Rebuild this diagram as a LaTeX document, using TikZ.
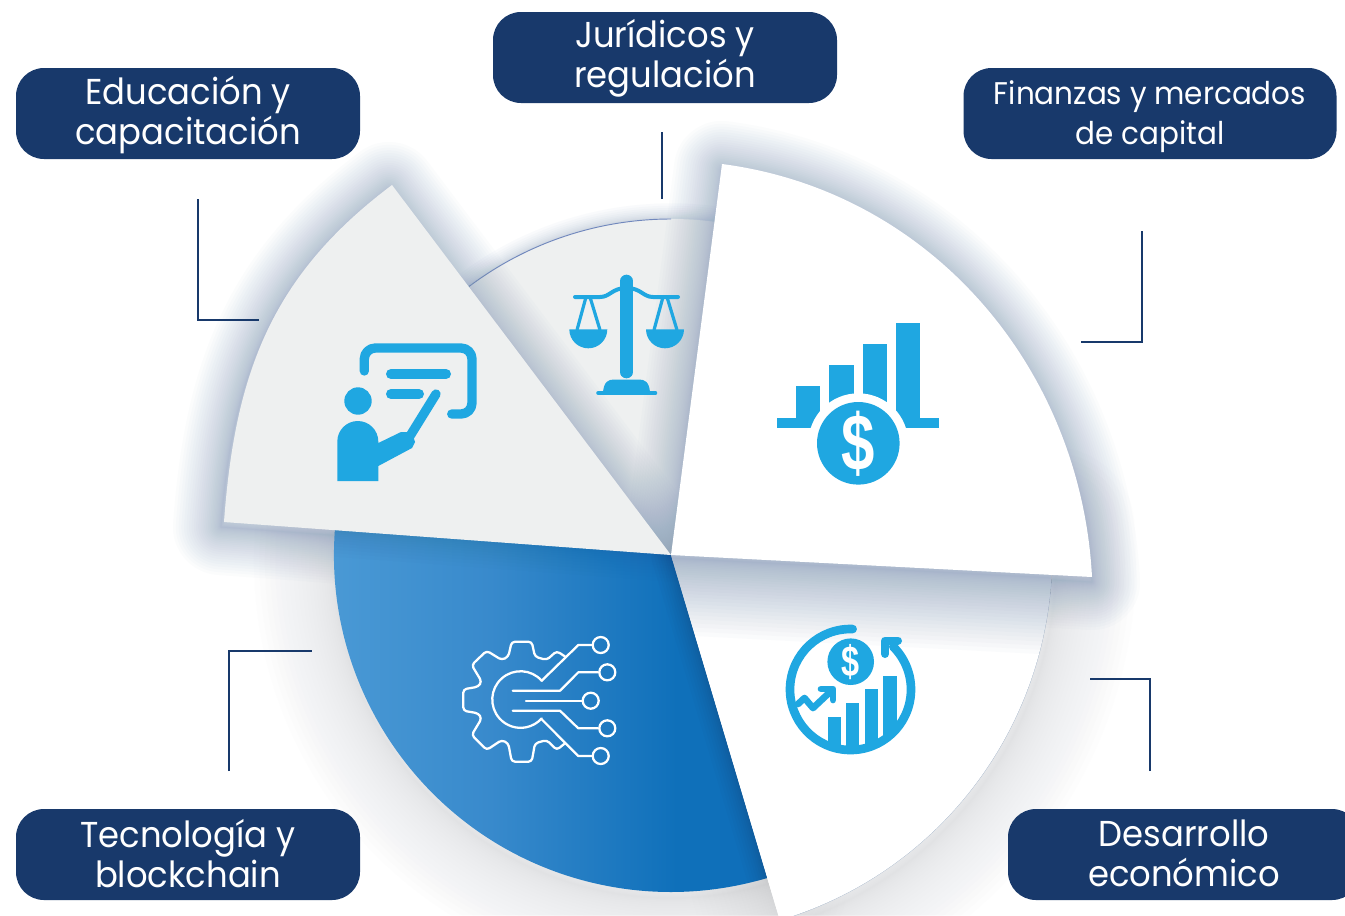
\documentclass[tikz,border=0pt]{standalone}
\usepackage{fontspec}
\setmainfont{Poppins}[FakeStretch=0.94]
\newfontfamily\symfont{Liberation Sans}
\usetikzlibrary{calc}
\definecolor{navy}{HTML}{18396B}
\definecolor{iconblue}{HTML}{1FA7E1}
\definecolor{sheet}{HTML}{EEF0F0}
\definecolor{halo}{HTML}{7E97B6}
\definecolor{softgray}{HTML}{B4B6BA}
\pgfdeclarehorizontalshading{bluegrad}{100bp}{rgb(0bp)=(0.30,0.61,0.84);rgb(25bp)=(0.30,0.61,0.84);rgb(45bp)=(0.22,0.54,0.80);rgb(65bp)=(0.06,0.44,0.73);rgb(100bp)=(0.06,0.42,0.72)}
\tikzset{
  labelbox/.style={fill=navy,rounded corners=21pt,text=white,align=center,inner sep=0pt,minimum height=68.25pt,
     font=\fontsize{27}{30}\selectfont},
  leader/.style={draw=navy,line width=2pt,line join=miter},
  iconfill/.style={fill=iconblue,draw=none},
  iconline/.style={draw=iconblue,line cap=round,line join=round},
  gearline/.style={draw=white,line width=1.7pt,line join=round,line cap=round},
  coinsign/.style={text=white,inner sep=0pt,font=\symfont\bfseries},
  pad/.style={draw=white,line width=1.7pt,circle,minimum size=12pt,inner sep=0pt}
}
\newcommand{\softhalo}[6]{% path, colour, max width(pt), steps, alpha, shift
  \foreach \i in {1,...,#4}{
    \pgfmathsetmacro{\wd}{#3*(\i/#4)^1.7}
    \draw[shift={#6},draw=#2,line width=\wd pt,draw opacity=#5,line join=round] #1;
  }}
\def\grayP{(671,555) -- (224,522) .. controls (235,372) and (272,275) .. (392,185) -- cycle}
\def\whiteP{(671,555) -- (722,164) .. controls (930,191) and (1081,367) .. (1092,577) -- cycle}
\def\legalP{(671,555) -- ++(-135:336) arc[start angle=-135,end angle=-75,radius=336] -- cycle}
\def\blueP{(671,555) -- ++(190:337) arc[start angle=190,end angle=73.4,radius=337] -- cycle}
\def\lowP{(671,555) -- ++(-5:381) arc[start angle=-5,end angle=73.4,radius=381] -- cycle}
\begin{document}
\begin{tikzpicture}[x=0.75pt,y=0.75pt,yscale=-1]
\useasboundingbox (0,0) rectangle (1345,915);
\fill[white] (0,0) rectangle (1345,915);
% broad soft shadows
\softhalo{\blueP}{softgray}{120}{24}{0.016}{(0,6)}
\softhalo{\lowP}{softgray}{120}{24}{0.016}{(4,6)}
\softhalo{\legalP}{halo}{22}{10}{0.04}{(0,-1)}
% lower sectors
\fill[sheet] \legalP;
\draw[draw=halo!90!blue,line width=0.7pt] (671,555) ++(-127:336) arc[start angle=-127,end angle=-90,radius=336];
\fill[white] \lowP;
\draw[draw=halo,line width=0.5pt,draw opacity=.7] (671,555) ++(4:381) arc[start angle=4,end angle=73.4,radius=381];
% upper sectors' shadows
\softhalo{\whiteP}{halo}{72}{28}{0.026}{(0,5)}
\softhalo{\grayP}{halo}{72}{28}{0.026}{(-3,5)}
% blue sector above the pale shadows
\shade[shading=bluegrad] \blueP;
\begin{scope}
  \clip \blueP;
  \softhalo{\grayP}{navy}{40}{12}{0.012}{(0,0)}
  \softhalo{\lowP}{navy}{30}{10}{0.035}{(0,0)}
\end{scope}
\fill[white] \lowP;
\begin{scope}
  \clip \lowP;
  \softhalo{\whiteP}{halo}{115}{30}{0.03}{(0,3)}
\end{scope}
\fill[sheet] \grayP;
\fill[white] \whiteP;
% leaders
\coordinate (eduA) at (198,199); \coordinate (eduB) at (198,320); \coordinate (eduC) at (259,320);
\coordinate (jurA) at (662,132); \coordinate (jurB) at (662,199);
\coordinate (finA) at (1142,231); \coordinate (finB) at (1142,342); \coordinate (finC) at (1081,342);
\coordinate (tecA) at (229,771); \coordinate (tecB) at (229,651); \coordinate (tecC) at (312,651);
\coordinate (desA) at (1150,771); \coordinate (desB) at (1150,679); \coordinate (desC) at (1090,679);
\draw[leader] (eduA) -- (eduB) -- (eduC);
\draw[leader] (jurA) -- (jurB);
\draw[leader] (finA) -- (finB) -- (finC);
\draw[leader] (tecA) -- (tecB) -- (tecC);
\draw[leader] (desA) -- (desB) -- (desC);
% labels
\node[labelbox,minimum width=258pt] (edu) at (188,113.5) {\rule{0pt}{23pt}Educación y\\capacitación};
\node[labelbox,minimum width=258pt] (jur) at (665,57.5) {\rule{0pt}{22.5pt}Jurídicos y\\regulación};
\node[labelbox,minimum width=279.75pt,font=\fontsize{23.5}{30}\selectfont] (fin) at (1150,113.5) {\rule{0pt}{22pt}Finanzas y mercados\\de capital};
\node[labelbox,minimum width=258pt] (tec) at (188,854.5) {Tecnología y\\blockchain\rule[-1.5pt]{0pt}{1.5pt}};
\node[labelbox,minimum width=264pt] (des) at (1184,854.5) {Desarrollo\\económico\rule[-1.5pt]{0pt}{1.5pt}};
% presenter icon
\fill[iconfill] (358,401) circle[radius=13.7];
\fill[iconfill] (337.3,481) -- (337.3,441.5) arc[start angle=180,end angle=360,radius=20.5] -- (378.3,443) -- (401,432) -- (408,432) -- (413,436) -- (415,442) -- (412,448) -- (378.3,466) -- (378.3,481) -- cycle;
\draw[iconline,line width=7pt] (436,394) -- (410,436);
\draw[iconline,line width=7pt] (364.3,371) -- (364.3,359) arc[start angle=180,end angle=270,radius=11] -- (461,348) arc[start angle=270,end angle=360,radius=11] -- (472,403) arc[start angle=0,end angle=90,radius=11] -- (451.7,414);
\draw[iconline,line width=7.5pt] (391,374) -- (446,374);
\draw[iconline,line width=7.5pt] (391,394) -- (419,394);
% scales icon
\draw[iconline,line width=9.5pt] (626.5,281) -- (626.5,372);
\fill[iconfill] (621,370) rectangle (632,376);
\draw[iconline,line width=3pt] (575,297) -- (600,297) .. controls (610,297) and (612,288) .. (626.5,288) .. controls (641,288) and (643,297) .. (653,297) -- (678,297);
\draw[iconline,line width=2.4pt,line cap=butt] (577,330) -- (586,297) -- (590,297) -- (600,330);
\draw[iconline,line width=2.4pt,line cap=butt] (654,330) -- (663,297) -- (667,297) -- (677,330);
\fill[iconfill] (569.3,329.3) -- (607.3,329.3) arc[start angle=0,end angle=180,radius=19];
\fill[iconfill] (646,329.3) -- (684,329.3) arc[start angle=0,end angle=180,radius=19];
\fill[iconfill] (603,392) .. controls (604,382) and (608,379.5) .. (614,379.5) -- (639,379.5) .. controls (645,379.5) and (649,382) .. (650,392) -- cycle;
\draw[iconline,line width=3.5pt] (598.5,393) -- (655,393);
% finance icon
\fill[iconfill] (777.3,418.3) rectangle (938.7,427.7);
\fill[iconfill] (795.7,386) rectangle (820,427);
\fill[iconfill] (829.3,365) rectangle (853.7,427);
\fill[iconfill] (862.7,344.3) rectangle (887,427);
\fill[iconfill] (896,323.3) rectangle (920.3,427);
\fill[white] (858.3,443.3) circle[radius=50];
\fill[iconfill] (858.3,443.3) circle[radius=41.3];
\node[coinsign,font=\symfont\bfseries\fontsize{50}{50}\selectfont] (dollarA) at (858.3,443.3) {\scalebox{0.9}[1.2]{\$}};
% growth icon
\begin{scope}
  \clip (850.5,689.5) circle[radius=62];
  \fill[iconfill] (827.7,717.3) rectangle (841,760);
  \fill[iconfill] (846,703.3) rectangle (859.3,760);
  \fill[iconfill] (864.7,689.3) rectangle (878,760);
  \fill[iconfill] (883.3,676) rectangle (896.7,760);
\end{scope}
\draw[iconline,line width=6.5pt] (850.5,689.5) ++(-88:60.5) arc[start angle=-88,end angle=-405,radius=60.5];
\draw[iconline,line width=6pt] (885,654) -- (885,640.5) -- (898,640.5);
\draw[iconline,line width=5pt] (798,704) -- (804.5,698) -- (813,708) -- (830,692);
\draw[iconline,line width=5pt] (821,689) -- (833,689) -- (833,700);
\fill[iconfill] (850.7,661.7) circle[radius=23.3];
\node[coinsign,font=\symfont\bfseries\fontsize{27}{27}\selectfont] (dollarB) at (850.7,661.7) {\scalebox{0.9}[1.2]{\$}};
% gear icon
\draw[gearline,rounded corners=2.5pt] (565,656.5) -- (556.7,651) -- (546.7,660) -- (535,656.7) -- (531.7,641.7) -- (511.7,641.7) -- (508.3,656.7) -- (501.7,660) -- (486.7,650.7) -- (471.7,665) -- (481.7,681.7) -- (478.3,686.7) -- (463.3,689.3) -- (463.3,710.7) -- (478.3,713.3) -- (481.7,718.3) -- (471.7,735) -- (486.7,750) -- (501.7,740) -- (508.3,743.3) -- (511.7,761.7) -- (531.7,761.7) -- (535,743.3) -- (546.7,740) -- (556.7,750) -- (565,743.3);
\draw[gearline] (541.7,680.7) arc[start angle=-41.7,end angle=-318.3,radius=28.3];
\coordinate (gearTop) at (541.7,680.7);
\coordinate (gearBot) at (541.7,719.3);
\node[pad] (p1) at (600.7,645) {};
\node[pad] (p2) at (607.3,672.3) {};
\node[pad] (p3) at (590.7,700.7) {};
\node[pad] (p4) at (607.3,728.3) {};
\node[pad] (p5) at (600.7,756) {};
\draw[gearline] (gearTop) -- (578.3,645) -- (p1.west);
\draw[gearline] (gearBot) -- (578.3,756) -- (p5.west);
\draw[gearline] (512.7,690.7) -- (560,690.7) -- (578.3,672.3) -- (p2.west);
\draw[gearline] (526,700.7) -- (p3.west);
\draw[gearline] (512.7,710.7) -- (560,710.7) -- (578.3,728.3) -- (p4.west);
\end{tikzpicture}
\end{document}
